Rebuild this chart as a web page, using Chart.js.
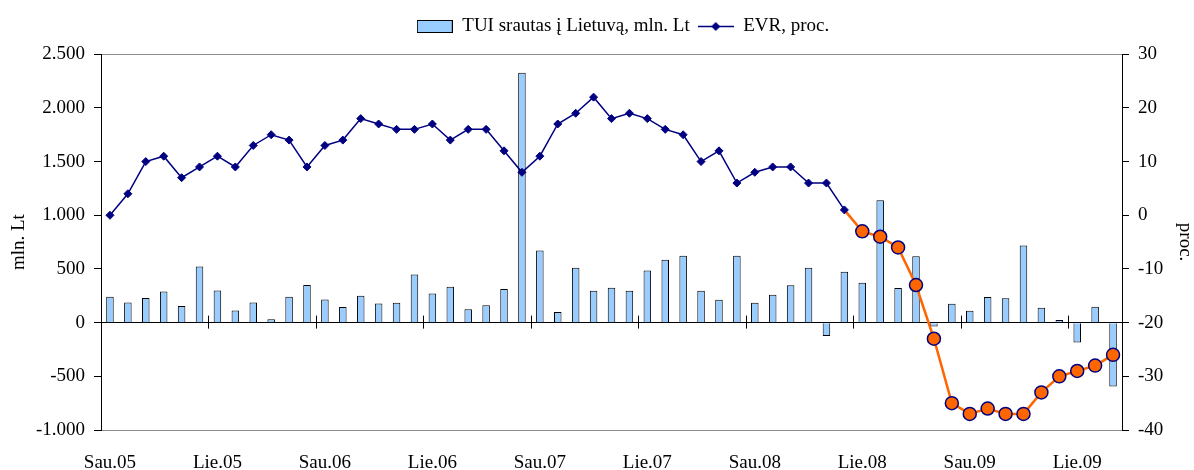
<!DOCTYPE html>
<html>
<head>
<meta charset="utf-8">
<script src="https://cdn.jsdelivr.net/npm/chart.js@4.4.1/dist/chart.umd.min.js"></script>
<style>
  html, body { margin: 0; padding: 0; background: #fff; }
</style>
</head>
<body>
<canvas id="chart" width="1194" height="470"></canvas>
<script>
// monthly categories, Sau.05 .. Rgs.09
const months = [
  "Sau.05","Vas.05","Kov.05","Bal.05","Geg.05","Bir.05","Lie.05","Rgp.05","Rgs.05","Spa.05","Lap.05","Gru.05",
  "Sau.06","Vas.06","Kov.06","Bal.06","Geg.06","Bir.06","Lie.06","Rgp.06","Rgs.06","Spa.06","Lap.06","Gru.06",
  "Sau.07","Vas.07","Kov.07","Bal.07","Geg.07","Bir.07","Lie.07","Rgp.07","Rgs.07","Spa.07","Lap.07","Gru.07",
  "Sau.08","Vas.08","Kov.08","Bal.08","Geg.08","Bir.08","Lie.08","Rgp.08","Rgs.08","Spa.08","Lap.08","Gru.08",
  "Sau.09","Vas.09","Kov.09","Bal.09","Geg.09","Bir.09","Lie.09","Rgp.09","Rgs.09"
];

// TUI srautas, mln. Lt
const tuiFlow = [
  240, 188, 229, 291, 155, 523, 300, 114, 188, 31, 241, 350,
  216, 146, 251, 179, 186, 449, 272, 334, 124, 161, 313, 2328,
  672, 99, 511, 297, 325, 297, 486, 585, 622, 297, 214, 622,
  186, 260, 347, 511, -124, 474, 372, 1139, 322, 619, -37, 176,
  111, 238, 226, 718, 139, 25, -186, 149, -594
];

// EVR, proc. (faktas, Sau.05 .. Bir.08)
const evrActual = [
  0, 4, 10, 11, 7, 9, 11, 9, 13, 15, 14, 9,
  13, 14, 18, 17, 16, 16, 17, 14, 16, 16, 12, 8,
  11, 17, 19, 22, 18, 19, 18, 16, 15, 10, 12, 6,
  8, 9, 9, 6, 6, 1
];

// EVR prognozė (nuo Bir.08)
const forecastStart = 41;
const evrForecast = [1, -3, -4, -6, -13, -23, -35, -37, -36, -37, -37, -33, -30, -29, -28, -26];

const evrLine = months.map((m, i) => i < evrActual.length ? evrActual[i] : null);
const forecastLine = months.map((m, i) => i >= forecastStart ? evrForecast[i - forecastStart] : null);

const FONT = "'Liberation Serif', 'Times New Roman', serif";

function fmtLt(v) {
  const s = Math.abs(v).toString().replace(/\B(?=(\d{3})+(?!\d))/g, ".");
  return (v < 0 ? "-" : "") + s;
}

function barIcon() {
  const c = document.createElement("canvas");
  c.width = 36; c.height = 13;
  const g = c.getContext("2d");
  g.fillStyle = "#99CCFF";
  g.fillRect(1, 1, 34, 11);
  g.strokeStyle = "#000";
  g.lineWidth = 1;
  g.strokeRect(0.5, 0.5, 35, 12);
  return c;
}

function lineIcon() {
  const c = document.createElement("canvas");
  c.width = 36; c.height = 13;
  const g = c.getContext("2d");
  g.strokeStyle = "#000080";
  g.lineWidth = 1.5;
  g.beginPath(); g.moveTo(0, 6.5); g.lineTo(36, 6.5); g.stroke();
  g.fillStyle = "#000080";
  g.beginPath(); g.moveTo(18, 2); g.lineTo(22.5, 6.5); g.lineTo(18, 11); g.lineTo(13.5, 6.5); g.closePath(); g.fill();
  return c;
}

// small tick marks on the zero line every 6 months
const zeroTicks = {
  id: "zeroTicks",
  beforeDatasetsDraw(chart) {
    const xs = chart.scales.x, ys = chart.scales.y, ctx = chart.ctx;
    const half = (xs.getPixelForValue(1) - xs.getPixelForValue(0)) / 2;
    const y0 = ys.getPixelForValue(0);
    ctx.save();
    ctx.strokeStyle = "#000";
    ctx.lineWidth = 1;
    for (let i = 6; i < months.length; i += 6) {
      const x = Math.round(xs.getPixelForValue(i) - half) + 0.5;
      ctx.beginPath(); ctx.moveTo(x, y0 - 7); ctx.lineTo(x, y0 + 6); ctx.stroke();
    }
    ctx.restore();
  }
};

// legend is centred a bit right of the canvas centre in the original
const legendShift = {
  id: "legendShift",
  afterLayout(chart) { chart.legend.left += 52; }
};

new Chart(document.getElementById("chart"), {
  data: {
    labels: months,
    datasets: [
      {
        type: "bar",
        label: "TUI srautas į Lietuvą, mln. Lt",
        data: tuiFlow,
        yAxisID: "y",
        backgroundColor: "#99CCFF",
        borderColor: "#000000",
        borderWidth: 1,
        barPercentage: 0.42,
        categoryPercentage: 1,
        order: 3
      },
      {
        type: "line",
        label: "EVR, proc.",
        data: evrLine,
        yAxisID: "y1",
        borderColor: "#000080",
        borderWidth: 1.5,
        pointStyle: "rectRot",
        pointRadius: 4,
        pointBackgroundColor: "#000080",
        pointBorderColor: "#000080",
        pointBorderWidth: 1,
        tension: 0,
        order: 1
      },
      {
        type: "line",
        label: "EVR prognozė",
        data: forecastLine,
        yAxisID: "y1",
        borderColor: "#FF6600",
        borderWidth: 2.5,
        pointStyle: "circle",
        pointRadius: ctx => ctx.dataIndex === forecastStart ? 0 : 6.5,
        pointBackgroundColor: "#FF6600",
        pointBorderColor: "#000080",
        pointBorderWidth: 1.5,
        tension: 0,
        order: 2
      }
    ]
  },
  options: {
    responsive: false,
    animation: false,
    devicePixelRatio: 1,
    layout: { padding: { top: 9, left: 0, right: 0, bottom: 0 } },
    plugins: {
      tooltip: { enabled: false },
      // empty subtitle just keeps a gap between legend and plot
      subtitle: { display: true, text: "", weight: 500, font: { size: 1 }, padding: { top: 0, bottom: 7 } },
      legend: {
        position: "top",
        labels: {
          font: { family: FONT, size: 19 },
          color: "#000",
          usePointStyle: true,
          pointStyleWidth: 36,
          boxHeight: 13,
          padding: 8,
          generateLabels() {
            return [
              { text: "TUI srautas į Lietuvą, mln. Lt", pointStyle: barIcon(), datasetIndex: 0, lineWidth: 0, fontColor: "#000" },
              { text: "EVR, proc.", pointStyle: lineIcon(), datasetIndex: 1, lineWidth: 0, fontColor: "#000" }
            ];
          }
        }
      }
    },
    scales: {
      x: {
        type: "category",
        grid: { display: false, drawTicks: false },
        border: { display: false },
        ticks: {
          autoSkip: false,
          maxRotation: 0,
          padding: 22,
          font: { family: FONT, size: 19 },
          color: "#000",
          callback: (v, i) => (i % 6 === 0 ? months[i] : "")
        },
        afterFit: s => { s.height = 40; }
      },
      y: {
        position: "left",
        min: -1000,
        max: 2500,
        border: { color: "#000", width: 1 },
        grid: {
          color: ctx => {
            const v = ctx.tick && ctx.tick.value;
            if (v === 0) return "#000";
            if (v === 2500 || v === -1000) return "#8c8c8c";
            return "rgba(0,0,0,0)";
          },
          tickColor: "#000",
          tickLength: 7,
          lineWidth: 1
        },
        ticks: {
          stepSize: 500,
          padding: 9,
          font: { family: FONT, size: 19 },
          color: "#000",
          callback: v => fmtLt(v)
        },
        title: {
          display: true,
          text: "mln. Lt",
          font: { family: FONT, size: 19, lineHeight: 1 },
          color: "#000",
          padding: { top: 10, bottom: 0 }
        },
        afterFit: s => { s.width = 101; }
      },
      y1: {
        position: "right",
        min: -40,
        max: 30,
        border: { color: "#000", width: 1 },
        grid: { drawOnChartArea: false, tickColor: "#000", tickLength: 7 },
        ticks: {
          stepSize: 10,
          padding: 9,
          font: { family: FONT, size: 19 },
          color: "#000"
        },
        title: {
          display: true,
          text: "proc.",
          font: { family: FONT, size: 19, lineHeight: 1 },
          color: "#000",
          padding: { top: 0, bottom: 0 }
        },
        afterFit: s => { s.width = 72; }
      }
    }
  },
  plugins: [zeroTicks, legendShift]
});
</script>
</body>
</html>
